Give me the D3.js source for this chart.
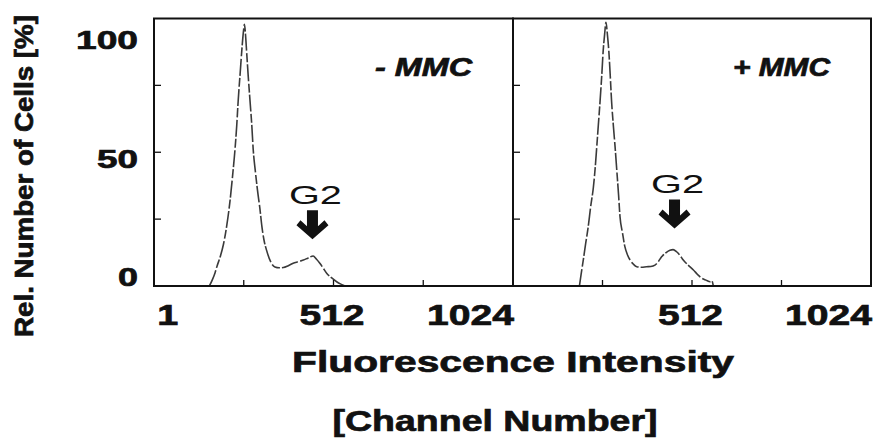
<!DOCTYPE html>
<html>
<head>
<meta charset="utf-8">
<script src="https://cdn.jsdelivr.net/npm/d3@7"></script>
<style>
  html, body { margin: 0; padding: 0; background: #ffffff; }
  svg { display: block; font-family: "Liberation Sans", Arial, Helvetica, sans-serif; }
  .heavy { stroke: #111111; stroke-width: 0.7px; paint-order: stroke; }
</style>
</head>
<body>
<svg id="chart" width="880" height="441"></svg>
<script>
// DNA histograms (flow cytometry), without and with MMC treatment
const panelTitles = ["- MMC", "+ MMC"];

const minusChannel = [158, 166, 174, 180, 189, 198, 208, 217, 224, 231, 236, 240, 246, 251, 255, 258, 261, 264, 269, 274, 279, 283, 289, 295, 302, 308, 314, 321, 333, 345, 357, 369, 383, 397, 412, 426, 440, 454, 463, 473, 483, 493, 507, 521, 533, 545];
const minusPercent = [0, 2.2, 4.9, 7.5, 11, 15.5, 23, 32, 41, 51, 60, 69, 80, 89, 95, 97.8, 94, 88, 78, 69, 60, 51, 43, 36, 29, 22, 17, 13.4, 9, 7.1, 6.8, 6.9, 7.6, 8.5, 9.1, 9.7, 10.5, 11.2, 10.1, 8.5, 6.6, 4.7, 3, 1.6, 0.7, 0];

const plusChannel = [190, 195, 201, 208, 215, 222, 230, 235, 239, 244, 249, 254, 258, 262, 266, 270, 274, 278, 282, 287, 292, 297, 302, 306, 313, 320, 327, 335, 344, 354, 368, 382, 394, 406, 416, 425, 437, 449, 458, 468, 478, 487, 501, 516, 528, 540, 552, 564, 569, 573];
const plusPercent = [0, 4.5, 9.7, 16, 22, 29.5, 37, 44, 51, 60, 69, 79, 88, 94, 98.6, 94, 88, 79, 69, 60, 52, 43, 34, 26, 20, 14.7, 11.8, 9.7, 8.2, 7.2, 7, 7.2, 7.3, 7.8, 9.2, 10.9, 12.4, 13.4, 13.6, 12.8, 11.4, 9.7, 7.8, 6, 4.3, 2.9, 2.2, 1.6, 1.9, 0];

const series = [
  { channel: minusChannel, percent: minusPercent },
  { channel: plusChannel, percent: plusPercent }
];

const yLabelValues = [0, 50, 100];
const yMinorTicks = [25, 50, 75];
const xTickValues = [256, 512, 768];
const xLabelValues = [[1, 512, 1024], [512, 1024]];

const g2Label = "G2";
const g2Channel = [452, 462];
const g2Percent = [17.5, 21.5];

const xTitle = "Fluorescence Intensity";
const xSubtitle = "[Channel Number]";
const yTitle = "Rel. Number of Cells [%]";

// ---- layout ----
const svg = d3.select("#chart");
svg.append("rect").attr("width", 880).attr("height", 441).attr("fill", "#ffffff");

const plotTop = 18.5, plotBottom = 286;
const panelEdges = [[154, 513], [513, 871]];

const y = d3.scaleLinear().domain([0, 100]).range([plotBottom, plotTop]);
// tick numbers on the left are set slightly apart from the frame ticks
const yLabel = d3.scaleLinear().domain([0, 100]).range([286, 49]);

const ink = "#111111";

const line = d3.line()
  .x(d => d[0])
  .y(d => d[1])
  .curve(d3.curveMonotoneX);

panelEdges.forEach((edges, i) => {
  const x = d3.scaleLinear().domain([0, 1024]).range(edges);
  const g = svg.append("g");

  // histogram trace
  const pts = series[i].channel.map((c, k) => [x(c), y(series[i].percent[k])]);
  g.append("path")
    .attr("d", line(pts))
    .attr("fill", "none")
    .attr("stroke", "#3a3a3a")
    .attr("stroke-width", 1.6)
    .attr("stroke-dasharray", "17 2.5 9 2")
    .attr("stroke-linejoin", "round");

  // inner ticks along the left edge
  g.selectAll("line.ytick").data(yMinorTicks).join("line")
    .attr("class", "ytick")
    .attr("x1", edges[0]).attr("x2", edges[0] + 7)
    .attr("y1", d => y(d)).attr("y2", d => y(d))
    .attr("stroke", ink).attr("stroke-width", 1.3);

  // inner ticks along the bottom edge
  g.selectAll("line.xtick").data(xTickValues).join("line")
    .attr("class", "xtick")
    .attr("x1", d => x(d)).attr("x2", d => x(d))
    .attr("y1", plotBottom).attr("y2", plotBottom - 6)
    .attr("stroke", ink).attr("stroke-width", 1.3);

  // frame
  g.append("rect")
    .attr("x", edges[0]).attr("y", plotTop)
    .attr("width", edges[1] - edges[0]).attr("height", plotBottom - plotTop)
    .attr("fill", "none").attr("stroke", ink).attr("stroke-width", 2);

  // x tick labels
  g.selectAll("text.xlab").data(xLabelValues[i]).join("text")
    .attr("class", "xlab heavy")
    .attr("x", d => d === 1 ? x(d) + 3 : d === 1024 ? x(d) + 1 : x(d) - 1.5)
    .attr("y", 325)
    .attr("text-anchor", d => d === 1 ? "start" : d === 1024 ? "end" : "middle")
    .attr("font-size", 30).attr("font-weight", "bold").attr("fill", ink)
    .attr("textLength", d => String(d).length * 22 - 1)
    .attr("lengthAdjust", "spacingAndGlyphs")
    .text(d => d);

  // panel title
  g.append("text")
    .attr("class", "heavy")
    .attr("x", edges[1] - 41).attr("y", 76)
    .attr("text-anchor", "end")
    .attr("font-size", 25).attr("font-weight", "bold").attr("font-style", "italic")
    .attr("fill", ink)
    .attr("textLength", 97).attr("lengthAdjust", "spacingAndGlyphs")
    .text(panelTitles[i]);

  // G2 marker: label and bold down arrow
  const ax = x(g2Channel[i]), ay = y(g2Percent[i]);
  g.append("text")
    .attr("x", ax + 3).attr("y", ay - 35.5)
    .attr("text-anchor", "middle")
    .attr("font-size", 26).attr("fill", ink)
    .attr("textLength", 53).attr("lengthAdjust", "spacingAndGlyphs")
    .text(g2Label);
  g.append("path")
    .attr("transform", `translate(${ax},${ay})`)
    .attr("d", "M0,0 L-16,-14 L-12,-19 L-5.5,-13 L-5.5,-29 L5.5,-29 L5.5,-13 L12,-19 L16,-14 Z")
    .attr("fill", ink);
});

// y tick labels
svg.append("g").selectAll("text").data(yLabelValues).join("text")
  .attr("class", "heavy")
  .attr("x", 138).attr("y", d => yLabel(d))
  .attr("text-anchor", "end")
  .attr("font-size", 26).attr("font-weight", "bold").attr("fill", ink)
  .attr("textLength", d => String(d).length * 21 - 1)
  .attr("lengthAdjust", "spacingAndGlyphs")
  .text(d => d);

// axis titles
svg.append("text")
  .attr("class", "heavy")
  .attr("x", 513).attr("y", 372)
  .attr("text-anchor", "middle")
  .attr("font-size", 30).attr("font-weight", "bold").attr("fill", ink)
  .attr("textLength", 442).attr("lengthAdjust", "spacingAndGlyphs")
  .text(xTitle);

svg.append("text")
  .attr("class", "heavy")
  .attr("x", 495).attr("y", 431)
  .attr("text-anchor", "middle")
  .attr("font-size", 30).attr("font-weight", "bold").attr("fill", ink)
  .attr("textLength", 325).attr("lengthAdjust", "spacingAndGlyphs")
  .text(xSubtitle);

svg.append("text")
  .attr("class", "heavy")
  .attr("transform", "translate(33,176) rotate(-90)")
  .attr("text-anchor", "middle")
  .attr("font-size", 25).attr("font-weight", "bold").attr("fill", ink)
  .attr("textLength", 322).attr("lengthAdjust", "spacingAndGlyphs")
  .text(yTitle);
</script>
</body>
</html>
